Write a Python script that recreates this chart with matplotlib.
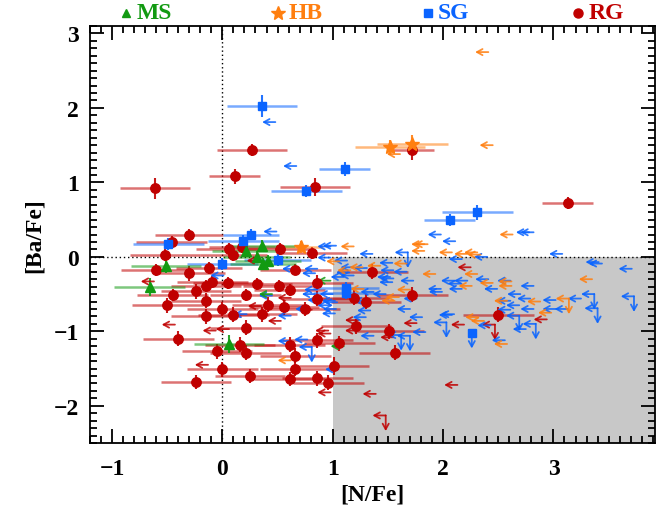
import numpy as np
import matplotlib
matplotlib.use("Agg")
import matplotlib.pyplot as plt
from matplotlib.ticker import MultipleLocator

plt.rcParams['font.family'] = ['Liberation Serif', 'DejaVu Serif']
plt.rcParams['font.weight'] = 'bold'

# ---------------- colours ----------------
C_MS = '#129a12'
C_HB = '#ff7f10'
C_SG = '#0a64ff'
C_RG = '#c00000'

# ---------------- RG: detections ([N/Fe], [Ba/Fe], errors) ----------------
rg_x = [-0.61, 0.11, 0.27, 0.84, 1.72, 3.13, -0.30, -0.46, -0.52, 0.06,
        0.18, 0.10, 0.52, 0.81, -0.60, -0.30, -0.12, 0.66, -0.09, -0.15,
        0.05, 0.31, 0.51, 0.61, 0.86, -0.24, -0.45, 0.21, -0.15, 0.86,
        -0.50, 0.00, 0.41, 0.56, 0.75, -0.15, 0.10, 0.36, 0.21, -0.40,
        0.86, 1.06, 0.16, 0.61, -0.05, 0.21, 0.66, 1.01, 0.00, 0.66,
        0.25, 0.61, 0.86, 0.96, -0.24, 1.36, 1.19, 1.30, 1.72, 1.21,
        1.51, 1.56, 2.50]
rg_y = [0.92, 1.08, 1.44, 0.94, 1.43, 0.72, 0.29, 0.20, 0.02, 0.11,
        0.13, 0.03, 0.11, 0.05, -0.18, -0.22, -0.15, -0.17, -0.34, -0.39,
        -0.35, -0.36, -0.39, -0.44, -0.35, -0.46, -0.51, -0.51, -0.59, -0.56,
        -0.65, -0.70, -0.64, -0.68, -0.70, -0.80, -0.78, -0.77, -0.95, -1.10,
        -1.12, -1.16, -1.18, -1.18, -1.27, -1.29, -1.33, -1.46, -1.51, -1.50,
        -1.60, -1.64, -1.63, -1.69, -1.68, -0.20, -0.55, -0.60, -0.51, -0.93,
        -1.00, -1.29, -0.78]
rg_xerr = [0.32, 0.23, 0.32, 0.32, 0.20, 0.23, 0.31, 0.32, 0.32, 0.30,
           0.30, 0.30, 0.30, 0.32, 0.32, 0.32, 0.30, 0.32, 0.32, 0.32,
           0.32, 0.32, 0.32, 0.32, 0.32, 0.32, 0.32, 0.32, 0.32, 0.32,
           0.32, 0.32, 0.32, 0.32, 0.32, 0.32, 0.32, 0.32, 0.32, 0.32,
           0.32, 0.32, 0.32, 0.32, 0.32, 0.32, 0.32, 0.32, 0.32, 0.32,
           0.32, 0.32, 0.32, 0.32, 0.32, 0.32, 0.32, 0.32, 0.32, 0.32,
           0.32, 0.32, 0.32]
rg_yerr = [0.14, 0.10, 0.08, 0.12, 0.13, 0.08, 0.08, 0.08, 0.08, 0.08,
           0.08, 0.08, 0.08, 0.08, 0.08, 0.10, 0.08, 0.08, 0.08, 0.08,
           0.08, 0.08, 0.08, 0.08, 0.10, 0.10, 0.08, 0.08, 0.10, 0.10,
           0.10, 0.10, 0.10, 0.10, 0.10, 0.10, 0.10, 0.10, 0.10, 0.10,
           0.10, 0.10, 0.10, 0.10, 0.10, 0.10, 0.10, 0.12, 0.10, 0.10,
           0.10, 0.10, 0.10, 0.10, 0.10, 0.10, 0.10, 0.10, 0.10, 0.10,
           0.10, 0.10, 0.10]
# RG: [N/Fe] upper limits
rg_lim_x = [-0.62, -0.43, -0.06, 0.06, -0.13, 0.34, 0.35, 0.62, 0.53, 0.81,
            0.96, 0.98, 0.98, 1.23, 1.23, 1.76, 1.55, 2.19, 2.25, 2.13,
            1.39, 2.94]
rg_lim_y = [-0.33, -0.91, -0.99, -0.97, -1.45, -0.05, -0.66, -0.55, -0.86, -0.71,
            -0.99, -1.03, -1.82, -0.85, -0.99, -0.89, -1.08, -0.91, -0.14, -1.72,
            -1.84, -0.84]
# RG: upper limits in both [N/Fe] and [Ba/Fe]
rg_both_x = [2.47, 1.48]
rg_both_y = [-0.91, -2.13]

# ---------------- MS ----------------
ms_x = [-0.51, -0.66, 0.36, 0.21, 0.31, 0.41, 0.37, 0.06]
ms_y = [-0.12, -0.41, 0.15, 0.08, 0.00, -0.05, -0.09, -1.17]
ms_xerr = [0.32, 0.32, 0.30, 0.30, 0.30, 0.30, 0.30, 0.32]
ms_yerr = [0.10, 0.12, 0.08, 0.08, 0.08, 0.08, 0.08, 0.12]
ms_lim_x = [1.10, 0.98, 0.45]
ms_lim_y = [-1.20, -0.32, -0.50]

# ---------------- HB ----------------
hb_x = [1.52, 1.72, 0.71]
hb_y = [1.47, 1.52, 0.13]
hb_xerr = [0.32, 0.32, 0.20]
hb_yerr = [0.10, 0.12, 0.08]
hb_lim_x = [2.41, 2.45, 1.61, 2.63, 1.83, 1.86, 1.19, 1.06, 1.83, 2.08,
            2.22, 2.31, 2.34, 1.16, 1.27, 1.43, 1.67, 1.93, 2.31, 2.26,
            2.45, 2.62, 2.62, 3.35, 1.28, 1.70, 1.60, 1.56, 2.58, 2.88,
            2.98, 2.32, 2.37, 2.58, 0.62]
hb_lim_y = [2.75, 1.50, 1.38, 0.30, 0.17, 0.17, 0.14, -0.06, 0.08, 0.06,
            0.04, 0.06, 0.03, -0.18, -0.14, -0.12, -0.09, -0.23, -0.23, -0.39,
            -0.35, -0.33, -0.39, -0.30, -0.43, -0.44, -0.54, -0.59, -0.59, -0.60,
            -0.75, -0.81, -0.86, -1.17, -1.39]
hb_both_x = [3.14]
hb_both_y = [-0.56]

# ---------------- SG ----------------
sg_x = [0.36, 1.11, 0.76, 0.26, 0.19, -0.49, 2.06, 2.31, 0.00, 0.50, 1.12, 1.12]
sg_y = [2.03, 1.18, 0.89, 0.30, 0.21, 0.17, 0.49, 0.60, -0.09, -0.04, -0.42, -0.48]
sg_xerr = [0.32, 0.23, 0.32, 0.25, 0.32, 0.32, 0.23, 0.32, 0.32, 0.30, 0.30, 0.30]
sg_yerr = [0.15, 0.10, 0.08, 0.08, 0.08, 0.08, 0.08, 0.10, 0.08, 0.08, 0.08, 0.08]
# SG detected in [N/Fe], upper limit in [Ba/Fe]
sg_ylim_x = [2.26]
sg_ylim_y = [-1.02]
sg_lim_x = [0.48, 0.67, 0.49, 1.98, 2.11, 2.78, 2.82, 0.98, 1.03, 0.98,
            0.86, 0.66, 0.84, 1.10, 0.01, 0.86, 0.89, 1.04, 1.03, 0.62,
            0.22, 0.45, 0.62, 0.77, 1.05, 1.36, 3.08, 2.17, 2.40, 3.41,
            3.44, 1.54, 1.13, 1.19, 1.31, 1.55, 1.67, 3.71, 1.55, 1.73,
            1.54, 2.10, 2.22, 2.16, 2.41, 2.61, 2.82, 2.17, 1.98, 1.99,
            2.49, 2.70, 2.61, 2.79, 3.02, 3.25, 1.76, 1.70, 2.69, 2.82,
            3.02, 3.13, 1.81, 2.10, 2.43, 2.75, 1.84, 1.37, 2.56, 1.15,
            1.19, 1.52, 1.00, 1.02, 0.98, 1.31, 1.34, 1.30, 1.48, 1.37,
            2.08, 0.84, 0.78, 1.02, 2.61]
sg_lim_y = [1.81, 1.22, 0.34, 0.30, 0.21, 0.33, 0.33, 0.14, 0.15, -0.01,
            -0.16, -0.16, -0.22, -0.27, -0.25, -0.44, -0.58, -0.61, -0.70, -0.79,
            -0.77, -0.52, -1.13, -1.11, -1.51, 0.04, 0.04, -0.03, 0.00, -0.07,
            -0.09, -0.08, -0.05, -0.14, -0.15, -0.18, -0.20, -0.16, -0.29, -0.32,
            -0.34, -0.32, -0.32, -0.36, -0.30, -0.32, -0.39, -0.43, -0.43, -0.47,
            -0.43, -0.50, -0.59, -0.56, -0.58, -0.56, -0.56, -0.70, -0.65, -0.70,
            -0.70, -0.70, -0.81, -0.77, -0.92, -0.97, -1.01, -1.06, -1.12, -0.21,
            -0.25, -0.27, -0.50, -0.59, -0.65, -0.59, -0.72, -0.81, -0.50, -0.47,
            -0.78, -0.50, -0.70, -0.76, -0.71]
sg_both_x = [1.68, 0.81, 3.37, 3.73, 3.40, 2.03, 2.84, 1.62, 1.70, 2.69]
sg_both_y = [0.06, -1.21, -0.50, -0.53, -0.69, -0.88, -0.90, -1.05, -1.06, -0.79]

# ---------------- axes ----------------
XLIM = (-1.2, 3.92)
YLIM = (-2.5, 3.1)
NFE_CUT, BAFE_CUT = 1.0, 0.0

fig = plt.figure(figsize=(6.65, 5.10), dpi=100)
ax = fig.add_axes([0.1353, 0.1294, 0.8496, 0.8176])
ax.set_xlim(*XLIM)
ax.set_ylim(*YLIM)

ax.add_patch(plt.Rectangle((NFE_CUT, YLIM[0]), XLIM[1] - NFE_CUT, BAFE_CUT - YLIM[0],
                           facecolor='#c8c8c8', edgecolor='none', zorder=0))
ax.axvline(0, color='k', ls=(0, (1, 2)), lw=1.0, zorder=1)
ax.axhline(0, color='k', ls=(0, (1, 2)), lw=1.0, zorder=1)

AX_LEN = 0.12   # horizontal arrow length in [N/Fe]
AY_LEN = 0.21   # vertical arrow length in [Ba/Fe]
ASTYLE = '->,head_length=0.4,head_width=0.22'


def arrow(x0, y0, x1, y1, color):
    ax.annotate('', xy=(x1, y1), xytext=(x0, y0),
                arrowprops=dict(arrowstyle=ASTYLE, color=color, lw=1.3,
                                shrinkA=0, shrinkB=0, alpha=0.85),
                zorder=3)


def xlimits(xs, ys, color):
    for x, y in zip(xs, ys):
        arrow(x, y, x - AX_LEN, y, color)


def ylimits(xs, ys, color):
    for x, y in zip(xs, ys):
        arrow(x, y, x, y - AY_LEN, color)


def detections(xs, ys, xe, ye, color, marker, ms):
    ax.errorbar(xs, ys, xerr=xe, fmt='none', ecolor=color, elinewidth=1.8,
                alpha=0.55, capsize=0, zorder=2)
    ax.errorbar(xs, ys, yerr=ye, fmt='none', ecolor=color, elinewidth=1.5,
                alpha=0.9, capsize=0, zorder=2)
    ax.plot(xs, ys, ls='none', marker=marker, ms=ms, color=color,
            mec=color, zorder=4)


# RG
detections(rg_x, rg_y, rg_xerr, rg_yerr, C_RG, 'o', 6.8)
xlimits(rg_lim_x, rg_lim_y, C_RG)
xlimits(rg_both_x, rg_both_y, C_RG)
ylimits(rg_both_x, rg_both_y, C_RG)
# SG
detections(sg_x, sg_y, sg_xerr, sg_yerr, C_SG, 's', 5.5)
ax.plot(sg_ylim_x, sg_ylim_y, ls='none', marker='s', ms=5.5, color=C_SG, zorder=4)
ylimits(sg_ylim_x, sg_ylim_y, C_SG)
xlimits(sg_lim_x, sg_lim_y, C_SG)
xlimits(sg_both_x, sg_both_y, C_SG)
ylimits(sg_both_x, sg_both_y, C_SG)
# HB
detections(hb_x, hb_y, hb_xerr, hb_yerr, C_HB, '*', 10)
xlimits(hb_lim_x, hb_lim_y, C_HB)
xlimits(hb_both_x, hb_both_y, C_HB)
ylimits(hb_both_x, hb_both_y, C_HB)
# MS
detections(ms_x, ms_y, ms_xerr, ms_yerr, C_MS, '^', 6.5)
xlimits(ms_lim_x, ms_lim_y, C_MS)

# ---------------- ticks, labels ----------------
ax.xaxis.set_major_locator(MultipleLocator(1))
ax.xaxis.set_minor_locator(MultipleLocator(0.1))
ax.yaxis.set_major_locator(MultipleLocator(1))
ax.yaxis.set_minor_locator(MultipleLocator(0.1))
ax.tick_params(which='both', direction='in', top=True, right=True, width=1.3,
               labelsize=17)
ax.tick_params(axis='x', pad=11)
ax.tick_params(axis='y', pad=8)
ax.tick_params(which='major', length=10)
ax.tick_params(which='minor', length=5)
for s in ax.spines.values():
    s.set_linewidth(1.3)
for lab in ax.get_xticklabels() + ax.get_yticklabels():
    lab.set_fontweight('bold')

ax.set_xlabel('[N/Fe]', fontsize=17, fontweight='bold', labelpad=3)
ax.set_ylabel('[Ba/Fe]', fontsize=17, fontweight='bold', labelpad=6)

# ---------------- key along the top ----------------
key = [('MS', C_MS, '^', 6, 0.064), ('HB', C_HB, '*', 10, 0.333),
       ('SG', C_SG, 's', 5.5, 0.598), ('RG', C_RG, 'o', 6.5, 0.864)]
for name, col, mk, msz, fx in key:
    ax.plot([fx], [1.032], marker=mk, ms=msz, color=col, ls='none',
            transform=ax.transAxes, clip_on=False)
    ax.text(fx + 0.018, 1.032, name, color=col, fontsize=17, fontweight='bold',
            ha='left', va='center', transform=ax.transAxes)

fig.savefig('out.png', dpi=100)
